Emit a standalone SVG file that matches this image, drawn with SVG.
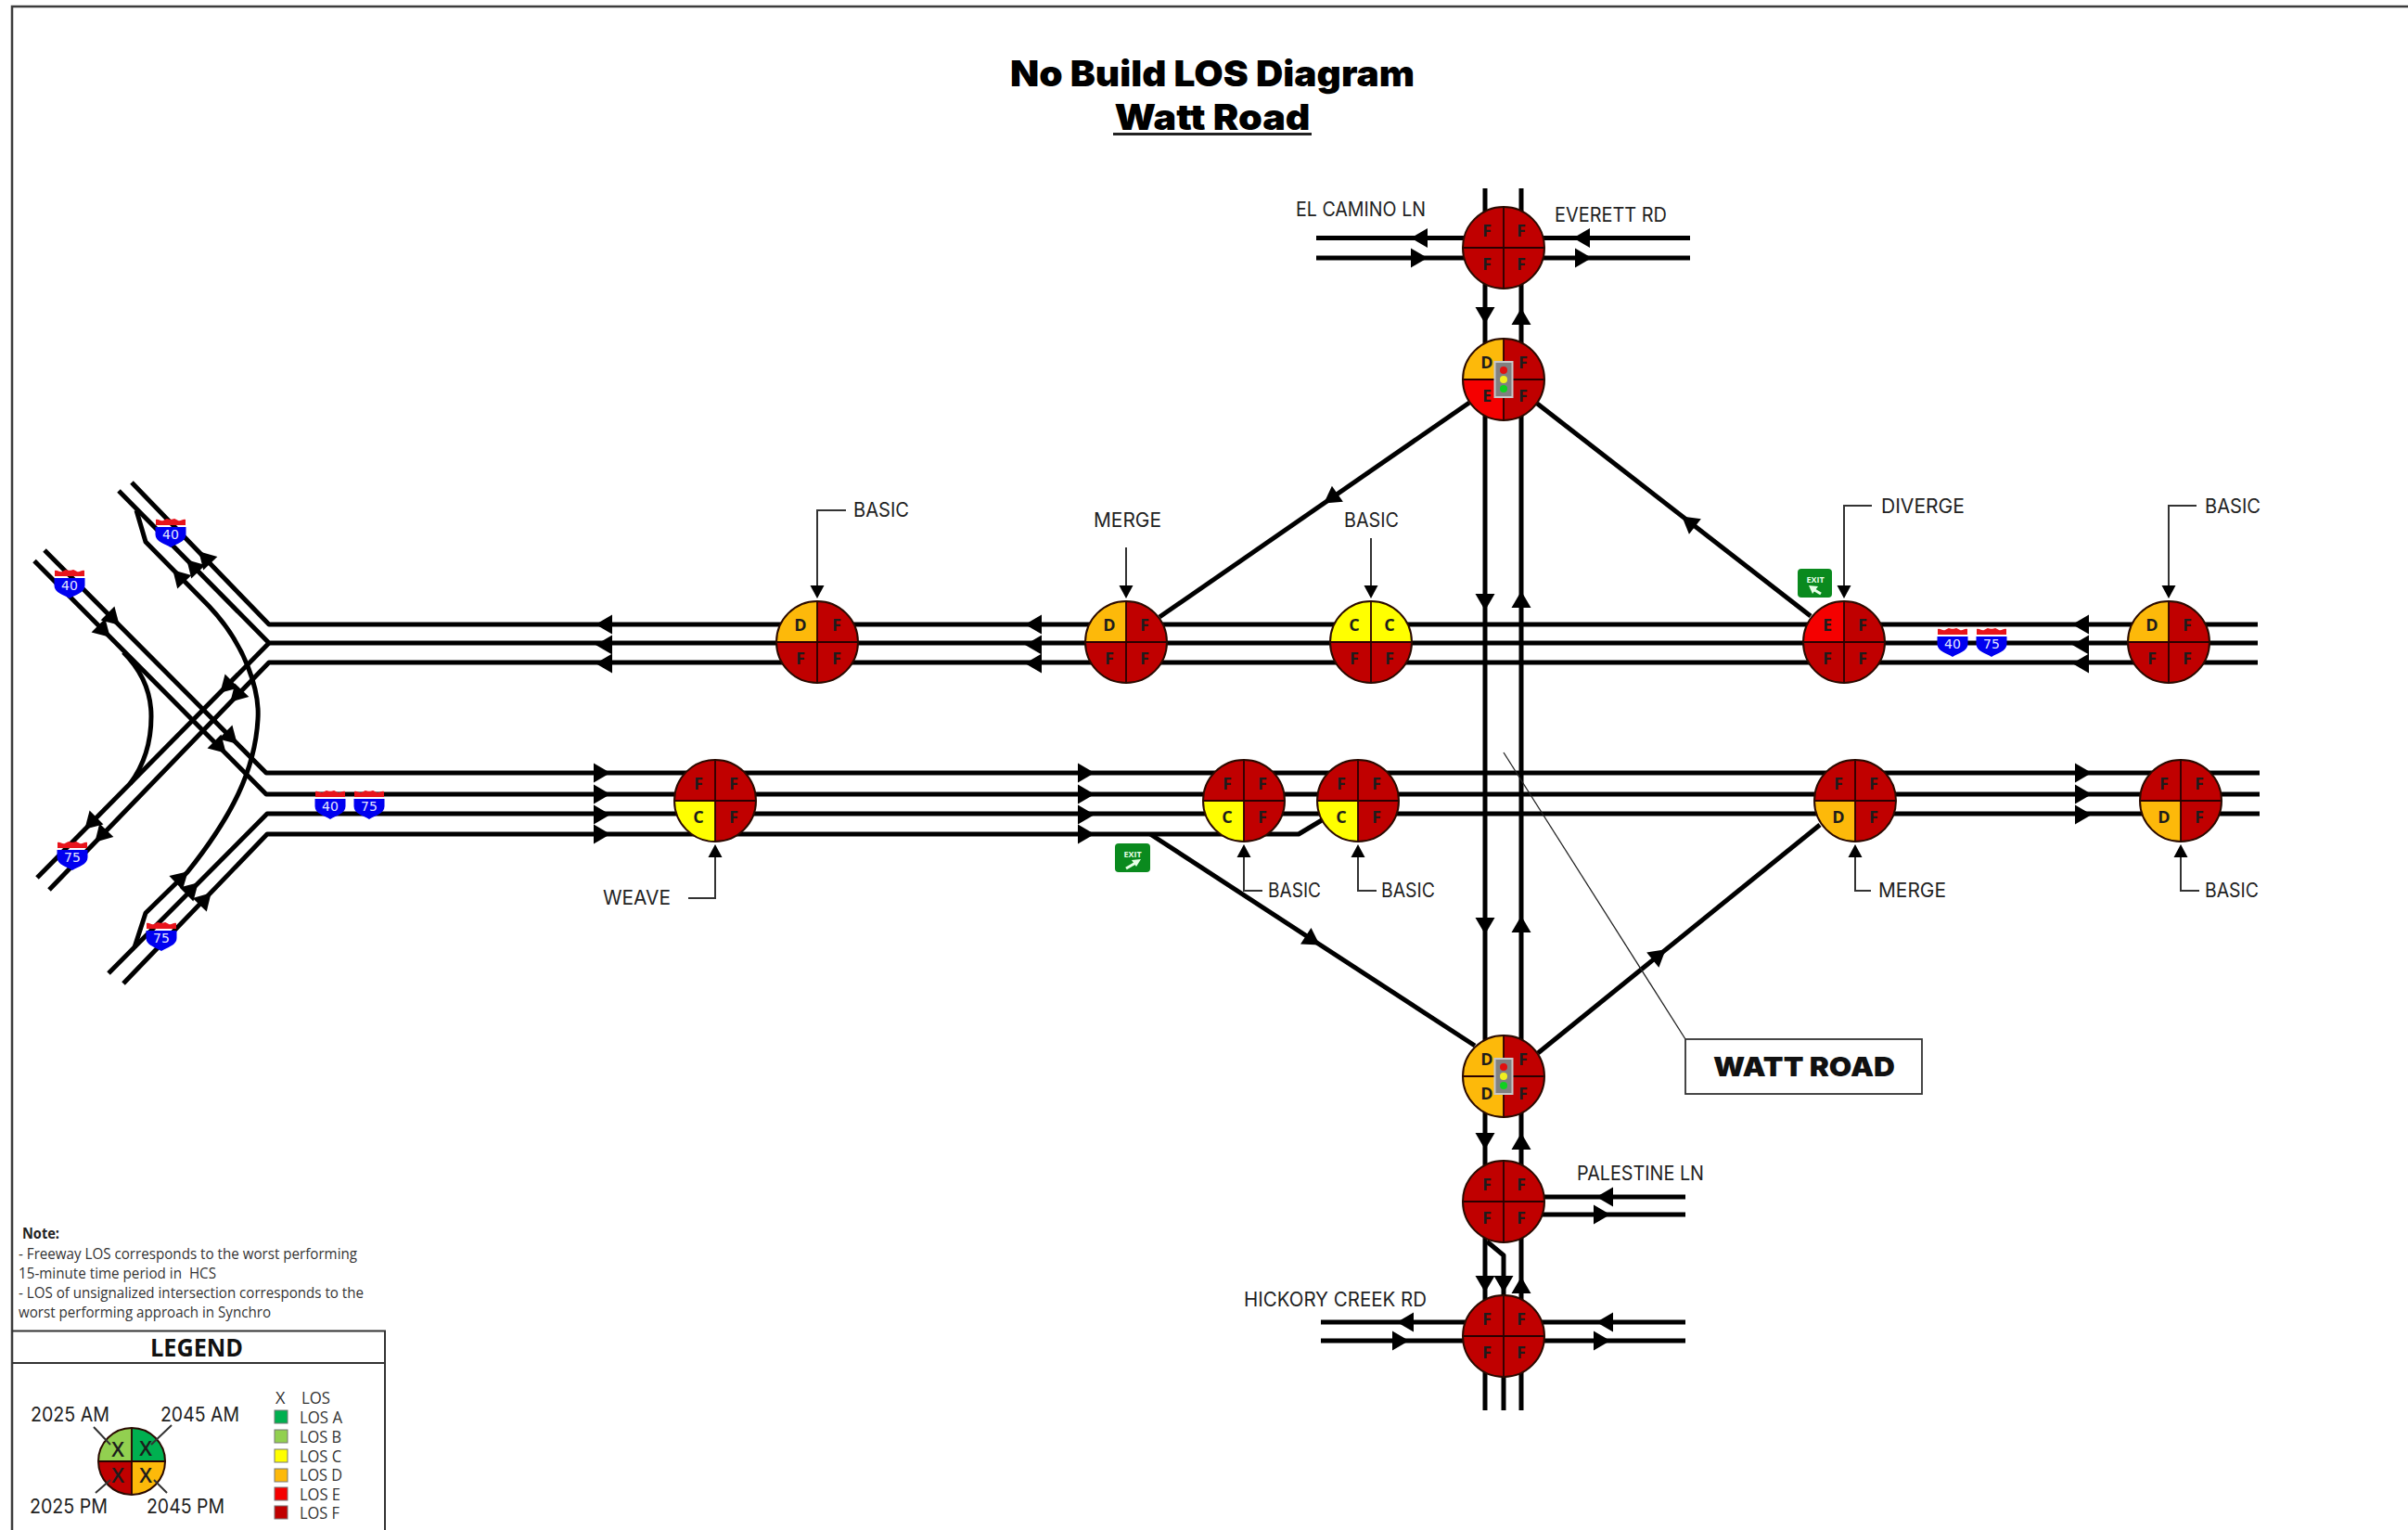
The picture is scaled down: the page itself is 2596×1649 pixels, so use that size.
<svg xmlns="http://www.w3.org/2000/svg" xmlns:xlink="http://www.w3.org/1999/xlink" width="2596" height="1649" viewBox="0 0 2596 1649">
<style>
.bg{fill:#fff}
.frame{fill:none;stroke:#3c3c3c;stroke-width:2.5}
.rd{fill:none;stroke:#000;stroke-width:5;stroke-linejoin:round}
.ld{fill:none;stroke:#333;stroke-width:2}
.thin{fill:none;stroke:#222;stroke-width:1.3}
.A{fill:#00b050}.B{fill:#92d050}.C{fill:#ffff00}.D{fill:#fdb90a}.E{fill:#f50000}.F{fill:#c00000}
.cross{stroke:#2a0000;stroke-width:1.8;fill:none}
.ring{fill:none;stroke:#2a0a00;stroke-width:2}
.q{font:bold 18px "Open Sans","Liberation Sans",sans-serif;fill:#1c1c1c;text-anchor:middle}
.lb{font:21px Inter,"Noto Sans","Liberation Sans",sans-serif;fill:#222}
.lx{font:22px Inter,"Noto Sans","Liberation Sans",sans-serif;fill:#222}
.title{font:900 39px Inter,"Liberation Sans",sans-serif;fill:#000;text-anchor:middle}
.note{font:16.5px "Open Sans","Liberation Sans",sans-serif;fill:#333}
.noteb{font:bold 16.5px "Open Sans","Liberation Sans",sans-serif;fill:#222}
.lg{font:18px "Open Sans","Liberation Sans",sans-serif;fill:#333}
.lq{font:600 22px "Open Sans","Liberation Sans",sans-serif;fill:#1c1c1c;text-anchor:middle}
.shn{font:14px "DejaVu Sans","Liberation Sans",sans-serif;fill:#e6e6ff;text-anchor:middle}
.ex{font:bold 9px "Open Sans","Liberation Sans",sans-serif;fill:#e8ffe8;text-anchor:middle}
.sig{fill:#808080;stroke:#c8c8c8;stroke-width:2}
</style>
<defs>
<polygon id="ah" points="1,0 -17,-10.5 -17,10.500" fill="#000"/>
<polygon id="lh" points="0,0 -14,-7.500 -14,7.500" fill="#000"/>
<path id="qd" d="M0 0V-44A44 44 0 0 0 -44 0Z"/>
<path id="ql" d="M0 0V-36A36 36 0 0 0 -36 0Z"/>
<g id="xh"><path class="cross" d="M0 -44V44M-44 0H44"/><circle class="ring" r="44"/></g>
<g id="sh">
<path fill="#e8141c" d="M-16 -9V-15C-13 -16 -11 -13 -8 -14C-6 -15 -5 -16 -4 -16C-2 -15 2 -15 4 -16C5 -16 6 -15 8 -14C11 -13 13 -16 16 -15V-9Z"/>
<path fill="#0000f0" d="M-16.5 -7H16.5V1C16.5 9 6 11 0 15C-6 11 -16.5 9 -16.5 1Z"/>
</g>
<g id="tl"><rect class="sig" x="-9.500" y="-19" width="19" height="38"/><circle cx="0" cy="-10" r="4" fill="#e01010"/><circle cx="0" cy="0" r="4" fill="#f0f020"/><circle cx="0" cy="10" r="4" fill="#10d020"/></g>
</defs>
<rect class="bg" width="2596" height="1649"/>
<path class="frame" d="M13 1649V7H2596"/>

<g id="title">
<text class="title" x="1307" y="93" textLength="436" lengthAdjust="spacingAndGlyphs">No Build LOS Diagram</text>
<text class="title" x="1307" y="140" textLength="211" lengthAdjust="spacingAndGlyphs">Watt Road</text>
<path d="M1200 144.500H1414" stroke="#222" stroke-width="3"/>
</g>

<g id="connectors">
<path class="rd" d="M142 520L290 673H2434"/>
<path class="rd" d="M128 529L290 693H2434"/>
<path class="rd" d="M40 946L290 693"/>
<path class="rd" d="M53 959L290 714H2434"/>
<path class="rd" d="M48 593L287 833H2436"/>
<path class="rd" d="M37 604.500L287 856H2436"/>
<path class="rd" d="M117 1049L288 877H2436"/>
<path class="rd" d="M133 1060L288 899H1400L1425 884"/>
<path class="rd" d="M147 550L157 584L225 653C265 695 280 745 278 775C275 830 250 880 202 940L157 984L145 1021"/>
<path class="rd" d="M133 703C155 725 163 750 163 772C163 800 155 825 140 845"/>
<path class="rd" d="M1250 665L1584 434"/>
<path class="rd" d="M1952 664L1656 434"/>
<path class="rd" d="M1240 899L1590 1127"/>
<path class="rd" d="M1658 1135L1962 889"/>
<path class="rd" d="M1601 203V1520"/>
<path class="rd" d="M1640 203V1520"/>
<path class="rd" d="M1603 1338L1621 1353V1520"/>
<path class="rd" d="M1419 256.500H1822M1419 278H1822"/>
<path class="rd" d="M1660 1290H1817M1660 1309H1817"/>
<path class="rd" d="M1424 1425H1817M1424 1445H1817"/>
<use xlink:href="#ah" transform="translate(643 673) rotate(180)"/><use xlink:href="#ah" transform="translate(643 695) rotate(180)"/><use xlink:href="#ah" transform="translate(643 715) rotate(180)"/>
<use xlink:href="#ah" transform="translate(1106 673) rotate(180)"/><use xlink:href="#ah" transform="translate(1106 695) rotate(180)"/><use xlink:href="#ah" transform="translate(1106 715) rotate(180)"/>
<use xlink:href="#ah" transform="translate(2235 673) rotate(180)"/><use xlink:href="#ah" transform="translate(2235 695) rotate(180)"/><use xlink:href="#ah" transform="translate(2235 715) rotate(180)"/>
<use xlink:href="#ah" transform="translate(657 833)"/><use xlink:href="#ah" transform="translate(657 856)"/><use xlink:href="#ah" transform="translate(657 878)"/><use xlink:href="#ah" transform="translate(657 899)"/>
<use xlink:href="#ah" transform="translate(1179 833)"/><use xlink:href="#ah" transform="translate(1179 856)"/><use xlink:href="#ah" transform="translate(1179 878)"/><use xlink:href="#ah" transform="translate(1179 899)"/>
<use xlink:href="#ah" transform="translate(2254 833)"/><use xlink:href="#ah" transform="translate(2254 856)"/><use xlink:href="#ah" transform="translate(2254 878)"/>
<use xlink:href="#ah" transform="translate(215 595) rotate(226)"/><use xlink:href="#ah" transform="translate(202 604) rotate(226)"/><use xlink:href="#ah" transform="translate(187 615) rotate(226)"/>
<use xlink:href="#ah" transform="translate(128 673) rotate(45)"/><use xlink:href="#ah" transform="translate(118 686) rotate(45)"/>
<use xlink:href="#ah" transform="translate(255 801) rotate(45)"/><use xlink:href="#ah" transform="translate(243 811) rotate(45)"/>
<use xlink:href="#ah" transform="translate(238 746) rotate(135)"/><use xlink:href="#ah" transform="translate(249 756) rotate(134)"/>
<use xlink:href="#ah" transform="translate(92 893) rotate(135)"/><use xlink:href="#ah" transform="translate(103 907) rotate(134)"/>
<use xlink:href="#ah" transform="translate(202 940) rotate(-43)"/><use xlink:href="#ah" transform="translate(213 952) rotate(-45)"/><use xlink:href="#ah" transform="translate(227 963) rotate(-46)"/>
<use xlink:href="#ah" transform="translate(1428 542) rotate(145)"/>
<use xlink:href="#ah" transform="translate(1814 557) rotate(218)"/>
<use xlink:href="#ah" transform="translate(1422 1018) rotate(33)"/>
<use xlink:href="#ah" transform="translate(1795 1024) rotate(-39)"/>
<use xlink:href="#ah" transform="translate(1601 348) rotate(90)"/><use xlink:href="#ah" transform="translate(1640 333) rotate(-90)"/>
<use xlink:href="#ah" transform="translate(1601 657) rotate(90)"/><use xlink:href="#ah" transform="translate(1640 638) rotate(-90)"/>
<use xlink:href="#ah" transform="translate(1601 1006) rotate(90)"/><use xlink:href="#ah" transform="translate(1640 988) rotate(-90)"/>
<use xlink:href="#ah" transform="translate(1601 1238) rotate(90)"/><use xlink:href="#ah" transform="translate(1640 1222) rotate(-90)"/>
<use xlink:href="#ah" transform="translate(1601 1392) rotate(90)"/><use xlink:href="#ah" transform="translate(1621 1392) rotate(90)"/><use xlink:href="#ah" transform="translate(1640 1377) rotate(-90)"/>
<use xlink:href="#ah" transform="translate(1522 256.500) rotate(180)"/><use xlink:href="#ah" transform="translate(1538 278)"/>
<use xlink:href="#ah" transform="translate(1697 256.500) rotate(180)"/><use xlink:href="#ah" transform="translate(1715 278)"/>
<use xlink:href="#ah" transform="translate(1722 1290) rotate(180)"/><use xlink:href="#ah" transform="translate(1735 1309)"/>
<use xlink:href="#ah" transform="translate(1722 1425) rotate(180)"/><use xlink:href="#ah" transform="translate(1735 1445)"/>
<use xlink:href="#ah" transform="translate(1507 1425) rotate(180)"/><use xlink:href="#ah" transform="translate(1518 1445)"/>
<path class="ld" d="M881 640V550H912"/><use xlink:href="#lh" transform="translate(881 645) rotate(90)"/>
<path class="ld" d="M1214 640V590"/><use xlink:href="#lh" transform="translate(1214 645) rotate(90)"/>
<path class="ld" d="M1478 640V580"/><use xlink:href="#lh" transform="translate(1478 645) rotate(90)"/>
<path class="ld" d="M1988 640V545H2018"/><use xlink:href="#lh" transform="translate(1988 645) rotate(90)"/>
<path class="ld" d="M2338 640V545H2368"/><use xlink:href="#lh" transform="translate(2338 645) rotate(90)"/>
<path class="ld" d="M771 915V968H742"/><use xlink:href="#lh" transform="translate(771 910) rotate(-90)"/>
<path class="ld" d="M1341 915V960H1361"/><use xlink:href="#lh" transform="translate(1341 910) rotate(-90)"/>
<path class="ld" d="M1464 915V960H1484"/><use xlink:href="#lh" transform="translate(1464 910) rotate(-90)"/>
<path class="ld" d="M2000 915V960H2017"/><use xlink:href="#lh" transform="translate(2000 910) rotate(-90)"/>
<path class="ld" d="M2351 915V960H2371"/><use xlink:href="#lh" transform="translate(2351 910) rotate(-90)"/>
<path class="thin" d="M1621 811L1817 1120"/>
</g>

<g id="n-elcamino" transform="translate(1621 267)"><use xlink:href="#qd" class="F"/><use xlink:href="#qd" class="F" transform="rotate(90)"/><use xlink:href="#qd" class="F" transform="rotate(180)"/><use xlink:href="#qd" class="F" transform="rotate(270)"/><use xlink:href="#xh"/><text class="q" x="-18" y="-12">F</text><text class="q" x="19" y="-12">F</text><text class="q" x="-18" y="24">F</text><text class="q" x="19" y="24">F</text></g>
<g id="n-north-ramps" transform="translate(1621 409)"><use xlink:href="#qd" class="D"/><use xlink:href="#qd" class="F" transform="rotate(90)"/><use xlink:href="#qd" class="F" transform="rotate(180)"/><use xlink:href="#qd" class="E" transform="rotate(270)"/><use xlink:href="#xh"/><text class="q" x="-18" y="-12">D</text><text class="q" x="21" y="-12">F</text><text class="q" x="-18" y="24">E</text><text class="q" x="21" y="24">F</text><use xlink:href="#tl"/></g>
<g id="n-south-ramps" transform="translate(1621 1160)"><use xlink:href="#qd" class="D"/><use xlink:href="#qd" class="F" transform="rotate(90)"/><use xlink:href="#qd" class="F" transform="rotate(180)"/><use xlink:href="#qd" class="D" transform="rotate(270)"/><use xlink:href="#xh"/><text class="q" x="-18" y="-12">D</text><text class="q" x="21" y="-12">F</text><text class="q" x="-18" y="25">D</text><text class="q" x="21" y="25">F</text><use xlink:href="#tl"/></g>
<g id="n-palestine" transform="translate(1621 1295)"><use xlink:href="#qd" class="F"/><use xlink:href="#qd" class="F" transform="rotate(90)"/><use xlink:href="#qd" class="F" transform="rotate(180)"/><use xlink:href="#qd" class="F" transform="rotate(270)"/><use xlink:href="#xh"/><text class="q" x="-18" y="-12">F</text><text class="q" x="19" y="-12">F</text><text class="q" x="-18" y="24">F</text><text class="q" x="19" y="24">F</text></g>
<g id="n-hickory" transform="translate(1621 1440)"><use xlink:href="#qd" class="F"/><use xlink:href="#qd" class="F" transform="rotate(90)"/><use xlink:href="#qd" class="F" transform="rotate(180)"/><use xlink:href="#qd" class="F" transform="rotate(270)"/><use xlink:href="#xh"/><text class="q" x="-18" y="-12">F</text><text class="q" x="19" y="-12">F</text><text class="q" x="-18" y="24">F</text><text class="q" x="19" y="24">F</text></g>

<g id="n-up-basic1" transform="translate(881 692)"><use xlink:href="#qd" class="D"/><use xlink:href="#qd" class="F" transform="rotate(90)"/><use xlink:href="#qd" class="F" transform="rotate(180)"/><use xlink:href="#qd" class="F" transform="rotate(270)"/><use xlink:href="#xh"/><text class="q" x="-18" y="-12">D</text><text class="q" x="21" y="-12">F</text><text class="q" x="-18" y="24">F</text><text class="q" x="21" y="24">F</text></g>
<g id="n-up-merge" transform="translate(1214 692)"><use xlink:href="#qd" class="D"/><use xlink:href="#qd" class="F" transform="rotate(90)"/><use xlink:href="#qd" class="F" transform="rotate(180)"/><use xlink:href="#qd" class="F" transform="rotate(270)"/><use xlink:href="#xh"/><text class="q" x="-18" y="-12">D</text><text class="q" x="20" y="-12">F</text><text class="q" x="-18" y="24">F</text><text class="q" x="20" y="24">F</text></g>
<g id="n-up-basic2" transform="translate(1478 692)"><use xlink:href="#qd" class="C"/><use xlink:href="#qd" class="C" transform="rotate(90)"/><use xlink:href="#qd" class="F" transform="rotate(180)"/><use xlink:href="#qd" class="F" transform="rotate(270)"/><use xlink:href="#xh"/><text class="q" x="-18" y="-12">C</text><text class="q" x="20" y="-12">C</text><text class="q" x="-18" y="24">F</text><text class="q" x="20" y="24">F</text></g>
<g id="n-up-diverge" transform="translate(1988 692)"><use xlink:href="#qd" class="E"/><use xlink:href="#qd" class="F" transform="rotate(90)"/><use xlink:href="#qd" class="F" transform="rotate(180)"/><use xlink:href="#qd" class="F" transform="rotate(270)"/><use xlink:href="#xh"/><text class="q" x="-18" y="-12">E</text><text class="q" x="20" y="-12">F</text><text class="q" x="-18" y="24">F</text><text class="q" x="20" y="24">F</text></g>
<g id="n-up-basic3" transform="translate(2338 692)"><use xlink:href="#qd" class="D"/><use xlink:href="#qd" class="F" transform="rotate(90)"/><use xlink:href="#qd" class="F" transform="rotate(180)"/><use xlink:href="#qd" class="F" transform="rotate(270)"/><use xlink:href="#xh"/><text class="q" x="-18" y="-12">D</text><text class="q" x="20" y="-12">F</text><text class="q" x="-18" y="24">F</text><text class="q" x="20" y="24">F</text></g>

<g id="n-lo-weave" transform="translate(771 863)"><use xlink:href="#qd" class="F"/><use xlink:href="#qd" class="F" transform="rotate(90)"/><use xlink:href="#qd" class="F" transform="rotate(180)"/><use xlink:href="#qd" class="C" transform="rotate(270)"/><use xlink:href="#xh"/><text class="q" x="-18" y="-12">F</text><text class="q" x="20" y="-12">F</text><text class="q" x="-18" y="24">C</text><text class="q" x="20" y="24">F</text></g>
<g id="n-lo-basic1" transform="translate(1341 863)"><use xlink:href="#qd" class="F"/><use xlink:href="#qd" class="F" transform="rotate(90)"/><use xlink:href="#qd" class="F" transform="rotate(180)"/><use xlink:href="#qd" class="C" transform="rotate(270)"/><use xlink:href="#xh"/><text class="q" x="-18" y="-12">F</text><text class="q" x="20" y="-12">F</text><text class="q" x="-18" y="24">C</text><text class="q" x="20" y="24">F</text></g>
<g id="n-lo-basic2" transform="translate(1464 863)"><use xlink:href="#qd" class="F"/><use xlink:href="#qd" class="F" transform="rotate(90)"/><use xlink:href="#qd" class="F" transform="rotate(180)"/><use xlink:href="#qd" class="C" transform="rotate(270)"/><use xlink:href="#xh"/><text class="q" x="-18" y="-12">F</text><text class="q" x="20" y="-12">F</text><text class="q" x="-18" y="24">C</text><text class="q" x="20" y="24">F</text></g>
<g id="n-lo-merge" transform="translate(2000 863)"><use xlink:href="#qd" class="F"/><use xlink:href="#qd" class="F" transform="rotate(90)"/><use xlink:href="#qd" class="F" transform="rotate(180)"/><use xlink:href="#qd" class="D" transform="rotate(270)"/><use xlink:href="#xh"/><text class="q" x="-18" y="-12">F</text><text class="q" x="20" y="-12">F</text><text class="q" x="-18" y="24">D</text><text class="q" x="20" y="24">F</text></g>
<g id="n-lo-basic3" transform="translate(2351 863)"><use xlink:href="#qd" class="F"/><use xlink:href="#qd" class="F" transform="rotate(90)"/><use xlink:href="#qd" class="F" transform="rotate(180)"/><use xlink:href="#qd" class="D" transform="rotate(270)"/><use xlink:href="#xh"/><text class="q" x="-18" y="-12">F</text><text class="q" x="20" y="-12">F</text><text class="q" x="-18" y="24">D</text><text class="q" x="20" y="24">F</text></g>

<g id="shields">
<g transform="translate(184 575)"><use xlink:href="#sh"/><text class="shn" y="6">40</text></g>
<g transform="translate(75 630)"><use xlink:href="#sh"/><text class="shn" y="6">40</text></g>
<g transform="translate(78 923)"><use xlink:href="#sh"/><text class="shn" y="6">75</text></g>
<g transform="translate(174 1010)"><use xlink:href="#sh"/><text class="shn" y="6">75</text></g>
<g transform="translate(356 868)"><use xlink:href="#sh"/><text class="shn" y="6">40</text></g>
<g transform="translate(398 868)"><use xlink:href="#sh"/><text class="shn" y="6">75</text></g>
<g transform="translate(2105 693)"><use xlink:href="#sh"/><text class="shn" y="6">40</text></g>
<g transform="translate(2147 693)"><use xlink:href="#sh"/><text class="shn" y="6">75</text></g>
</g>

<g id="exit-south"><rect x="1202" y="909" width="38" height="31" rx="4" fill="#0a8a1e"/><text class="ex" x="1221" y="924">EXIT</text><path d="M1214 936L1226 929" stroke="#e8ffe8" stroke-width="3"/><polygon points="1230,926 1220,927 1225,934" fill="#e8ffe8"/></g>
<g id="exit-north"><rect x="1938" y="613" width="37" height="31" rx="4" fill="#0a8a1e"/><text class="ex" x="1957" y="628">EXIT</text><path d="M1963 640L1953 634" stroke="#e8ffe8" stroke-width="3"/><polygon points="1950,631 1960,632 1954,640" fill="#e8ffe8"/></g>

<g id="labels">
<text class="lb" x="1397" y="233" textLength="140" lengthAdjust="spacingAndGlyphs">EL CAMINO LN</text>
<text class="lb" x="1676" y="239" textLength="121" lengthAdjust="spacingAndGlyphs">EVERETT RD</text>
<text class="lb" x="1700" y="1272" textLength="137" lengthAdjust="spacingAndGlyphs">PALESTINE LN</text>
<text class="lb" x="1341" y="1408" textLength="197" lengthAdjust="spacingAndGlyphs">HICKORY CREEK RD</text>
<text class="lb" x="920" y="557" textLength="60" lengthAdjust="spacingAndGlyphs">BASIC</text>
<text class="lb" x="1179" y="568" textLength="73" lengthAdjust="spacingAndGlyphs">MERGE</text>
<text class="lb" x="1449" y="568" textLength="59" lengthAdjust="spacingAndGlyphs">BASIC</text>
<text class="lb" x="2028" y="553" textLength="90" lengthAdjust="spacingAndGlyphs">DIVERGE</text>
<text class="lb" x="2377" y="553" textLength="60" lengthAdjust="spacingAndGlyphs">BASIC</text>
<text class="lb" x="650" y="975" textLength="73" lengthAdjust="spacingAndGlyphs">WEAVE</text>
<text class="lb" x="1367" y="967" textLength="57" lengthAdjust="spacingAndGlyphs">BASIC</text>
<text class="lb" x="1489" y="967" textLength="58" lengthAdjust="spacingAndGlyphs">BASIC</text>
<text class="lb" x="2025" y="967" textLength="73" lengthAdjust="spacingAndGlyphs">MERGE</text>
<text class="lb" x="2377" y="967" textLength="58" lengthAdjust="spacingAndGlyphs">BASIC</text>
</g>

<g id="watt-road"><rect x="1817" y="1120" width="255" height="59" fill="#fff" stroke="#333" stroke-width="1.8"/><text x="1945" y="1160" text-anchor="middle" font-family="Inter,'Liberation Sans',sans-serif" font-weight="900" font-size="29" fill="#111" textLength="196" lengthAdjust="spacingAndGlyphs">WATT ROAD</text></g>

<g id="note">
<text class="noteb" x="24" y="1335" textLength="40" lengthAdjust="spacingAndGlyphs">Note:</text>
<text class="note" x="20" y="1357" textLength="365" lengthAdjust="spacingAndGlyphs">- Freeway LOS corresponds to the worst performing</text>
<text class="note" x="20" y="1378" textLength="213" lengthAdjust="spacingAndGlyphs" xml:space="preserve">15-minute time period in  HCS</text>
<text class="note" x="20" y="1399" textLength="372" lengthAdjust="spacingAndGlyphs">- LOS of unsignalized intersection corresponds to the</text>
<text class="note" x="20" y="1420" textLength="272" lengthAdjust="spacingAndGlyphs">worst performing approach in Synchro</text>
</g>

<g id="legend">
<path d="M13 1434.500H415V1649M13 1469H415" fill="none" stroke="#333" stroke-width="2"/>
<text x="212" y="1462" text-anchor="middle" font-family="'Open Sans','Liberation Sans',sans-serif" font-weight="bold" font-size="27" fill="#111" textLength="100" lengthAdjust="spacingAndGlyphs">LEGEND</text>
<g transform="translate(142 1575)"><use xlink:href="#ql" class="B"/><use xlink:href="#ql" class="A" transform="rotate(90)"/><use xlink:href="#ql" class="D" transform="rotate(180)"/><use xlink:href="#ql" class="F" transform="rotate(270)"/><path class="cross" d="M0 -36V36M-36 0H36"/><circle class="ring" r="36"/></g>
<text class="lq" x="127" y="1570">X</text><text class="lq" x="157" y="1569">X</text><text class="lq" x="127" y="1598">X</text><text class="lq" x="157" y="1598">X</text>
<path class="ld" d="M101 1538L119 1557M185 1536L163 1557M103 1609L119 1595M180 1609L166 1595"/>
<g><text class="lx" x="33" y="1532" textLength="85" lengthAdjust="spacingAndGlyphs">2025 AM</text><text class="lx" x="173" y="1532" textLength="85" lengthAdjust="spacingAndGlyphs">2045 AM</text><text class="lx" x="32" y="1631" textLength="84" lengthAdjust="spacingAndGlyphs">2025 PM</text><text class="lx" x="158" y="1631" textLength="84" lengthAdjust="spacingAndGlyphs">2045 PM</text></g>
<text class="lg" x="297" y="1513">X</text><text class="lg" x="325" y="1513" textLength="31" lengthAdjust="spacingAndGlyphs">LOS</text>
<rect class="A" x="296" y="1520" width="14" height="14" stroke="#777"/><text class="lg" x="323" y="1534" textLength="46" lengthAdjust="spacingAndGlyphs">LOS A</text>
<rect class="B" x="296" y="1541" width="14" height="14" stroke="#777"/><text class="lg" x="323" y="1555" textLength="45" lengthAdjust="spacingAndGlyphs">LOS B</text>
<rect class="C" x="296" y="1562" width="14" height="14" stroke="#777"/><text class="lg" x="323" y="1576" textLength="45" lengthAdjust="spacingAndGlyphs">LOS C</text>
<rect class="D" x="296" y="1583" width="14" height="14" stroke="#777"/><text class="lg" x="323" y="1596" textLength="46" lengthAdjust="spacingAndGlyphs">LOS D</text>
<rect class="E" x="296" y="1603" width="14" height="14" stroke="#777"/><text class="lg" x="323" y="1617" textLength="44" lengthAdjust="spacingAndGlyphs">LOS E</text>
<rect class="F" x="296" y="1623" width="14" height="14" stroke="#777"/><text class="lg" x="323" y="1637" textLength="43" lengthAdjust="spacingAndGlyphs">LOS F</text>
</g>
</svg>
